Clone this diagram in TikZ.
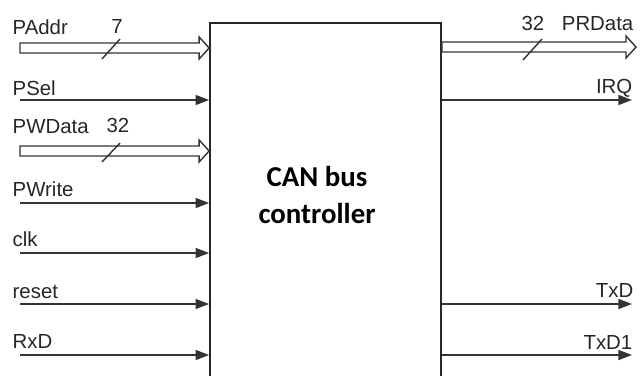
\documentclass[tikz,border=0pt]{standalone}
\usepackage{fontspec}
\setmainfont{Liberation Sans}
\newfontfamily\boxfont{Carlito}
\usetikzlibrary{arrows.meta, positioning}

% hollow bus arrow from #1 to #2 (left to right)
\newcommand\busarrow[2]{%
  \draw[busline] ([yshift=0.125cm]#1) -- ([xshift=-0.25cm, yshift=0.125cm]#2)
    -- ([xshift=-0.25cm, yshift=0.275cm]#2) -- (#2)
    -- ([xshift=-0.25cm, yshift=-0.275cm]#2) -- ([xshift=-0.25cm, yshift=-0.125cm]#2)
    -- ([yshift=-0.125cm]#1) -- cycle;}

\begin{document}
\begin{tikzpicture}[x=0.025cm, y=-0.025cm, line width=1pt, font=\fontsize{14.5}{17}\selectfont,
    sig/.style={draw=black!80, -{Triangle[length=3.4mm, width=2.5mm]}},
    busline/.style={draw=black!80, line join=miter},
    lbl/.style={anchor=base west, inner sep=0pt, text=black!85},
    rlbl/.style={anchor=base east, inner sep=0pt, text=black!85},
    buswidth/.style={anchor=base, inner sep=0pt, text=black!85}]

\clip (0,0) rectangle (640,376);
\node[draw=black!85, line width=1.2pt, minimum width=5.775cm, minimum height=9.2cm, inner sep=0pt] (ctrl) at (325.5,207) {};
\node[font=\boxfont\bfseries\fontsize{20.5}{26}\selectfont, align=center] (title) at (317,195) {CAN bus\\controller};

% inputs
\coordinate (paddr) at (20,48);
\coordinate (psel) at (20,100);
\coordinate (pwdata) at (20,151);
\coordinate (pwrite) at (20,203);
\coordinate (clk) at (20,253);
\coordinate (reset) at (20,304);
\coordinate (rxd) at (20,355);

% outputs
\coordinate (prdata) at (636,47);
\coordinate (irq) at (632,100);
\coordinate (txd) at (632,304);
\coordinate (txd1) at (632,355);

\busarrow{paddr}{paddr -| ctrl.west}
\draw[sig] (psel) -- (psel -| ctrl.west);
\busarrow{pwdata}{pwdata -| ctrl.west}
\draw[sig] (pwrite) -- (pwrite -| ctrl.west);
\draw[sig] (clk) -- (clk -| ctrl.west);
\draw[sig] (reset) -- (reset -| ctrl.west);
\draw[sig] (rxd) -- (rxd -| ctrl.west);

\busarrow{prdata -| ctrl.east}{prdata}
\draw[sig] (irq -| ctrl.east) -- (irq);
\draw[sig] (txd -| ctrl.east) -- (txd);
\draw[sig] (txd1 -| ctrl.east) -- (txd1);

% bus width marks
\draw[black!80] (102,59) -- (120,39);
\draw[black!80] (102,162) -- (120,143);
\draw[black!80] (523,60) -- (542,39);
\node[buswidth] (w1) at (117,33) {7};
\node[buswidth] (w2) at (118,132) {32};
\node[buswidth] (w3) at (533,30) {32};

\node[lbl] (l1) at (12,34) {PAddr};
\node[lbl] (l2) at (12,95) {PSel};
\node[lbl] (l3) at (12,133) {PWData};
\node[lbl] (l4) at (12,196) {PWrite};
\node[lbl] (l5) at (12,246) {clk};
\node[lbl] (l6) at (12,298) {reset};
\node[lbl] (l7) at (12,348) {RxD};

\node[rlbl] (r1) at (634,30) {PRData};
\node[rlbl] (r2) at (633,93) {IRQ};
\node[rlbl] (r3) at (634,297) {TxD};
\node[rlbl] (r4) at (633,349) {TxD1};
\end{tikzpicture}
\end{document}
